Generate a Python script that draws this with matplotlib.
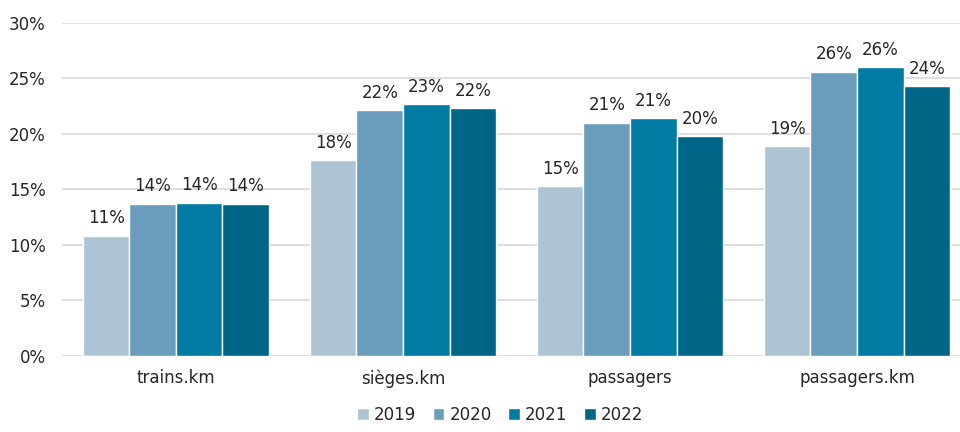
import matplotlib
matplotlib.use("Agg")
import matplotlib.pyplot as plt
import numpy as np

categories = ["trains.km", "sièges.km", "passagers", "passagers.km"]
years = ["2019", "2020", "2021", "2022"]
v2019 = [10.8, 17.6, 15.3, 18.9]
v2020 = [13.7, 22.1, 21.0, 25.6]
v2021 = [13.8, 22.7, 21.4, 26.0]
v2022 = [13.7, 22.3, 19.8, 24.3]
colors = ["#ADC4D4", "#6A9DBC", "#007BA3", "#006687"]

plt.rcParams["font.family"] = ["DejaVu Sans"]

fig = plt.figure(figsize=(9.6, 4.32), dpi=100)
ax = fig.add_axes([0.065, 0.177, 0.946, 0.77])

x = np.arange(len(categories))
w = 0.205
series = [v2019, v2020, v2021, v2022]
for i, (vals, col, yr) in enumerate(zip(series, colors, years)):
    pos = x + (i - 1.5) * w
    bars = ax.bar(pos, vals, width=w, color=col, edgecolor="white", linewidth=1, label=yr, zorder=3)
    for b, v in zip(bars, vals):
        ax.annotate(f"{v:.0f}%", xy=(b.get_x() + b.get_width() / 2, v), xytext=(0, 6),
                    textcoords="offset points", ha="center", va="bottom",
                    fontsize=12, color="#262626")

ax.set_xlim(-0.5, 3.5)
ax.set_ylim(0, 30)
ax.set_yticks(range(0, 31, 5))
ax.set_yticklabels([f"{t}%" for t in range(0, 31, 5)])
ax.set_xticks(x)
ax.set_xticklabels(categories)
ax.tick_params(axis="both", length=0, labelsize=12, colors="#262626")
ax.tick_params(axis="x", pad=10)
ax.tick_params(axis="y", pad=12)
ax.grid(axis="y", color="#D9D9D9", linewidth=1.2, zorder=0)
for s in ax.spines.values():
    s.set_visible(False)

ax.legend(loc="lower center", bbox_to_anchor=(0.482, -0.25), ncol=4, frameon=False,
          fontsize=12, handlelength=0.7, handleheight=0.7, handletextpad=0.3,
          columnspacing=1.0, labelcolor="#262626")

fig.savefig("out.png", dpi=100)
